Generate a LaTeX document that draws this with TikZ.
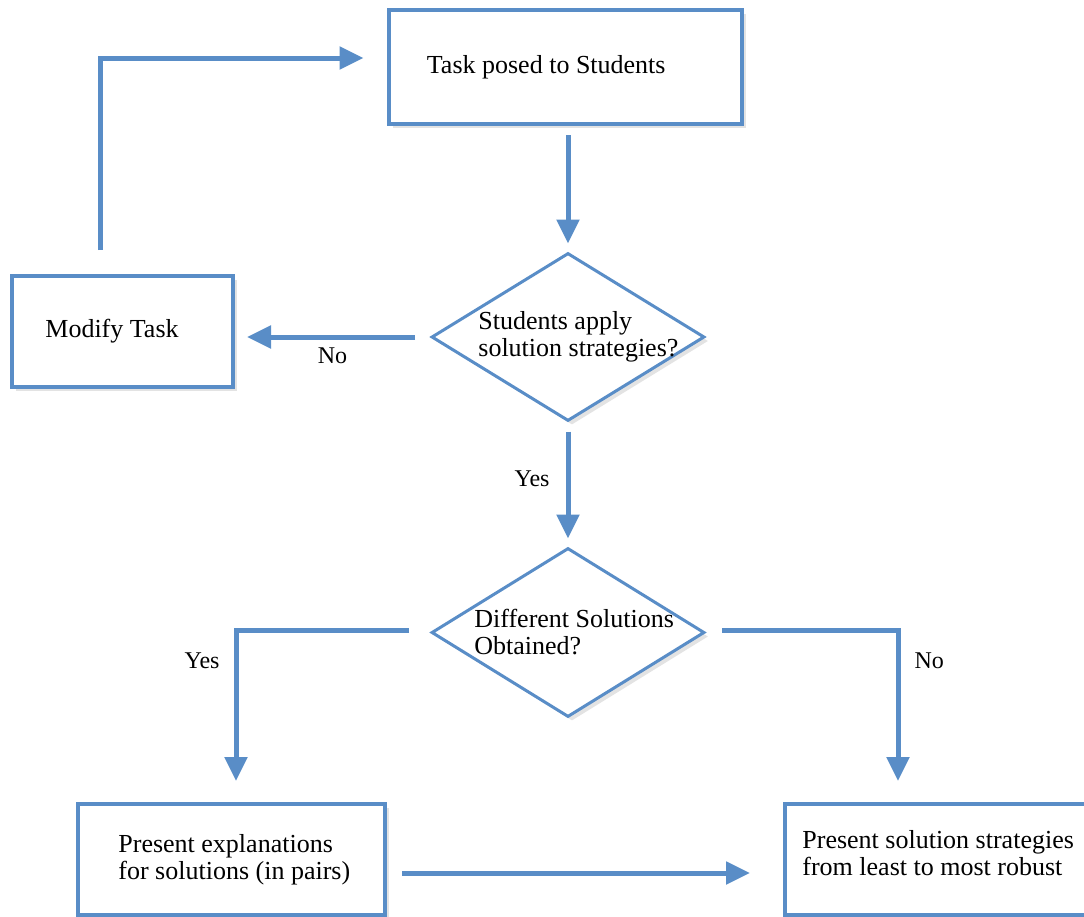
\documentclass[tikz,border=0pt]{standalone}
\usepackage{fontspec}
\setmainfont{Liberation Serif}
\usetikzlibrary{positioning,shapes.geometric,arrows.meta,shadows}
\definecolor{flowblue}{RGB}{89,141,199}

\begin{document}
\begin{tikzpicture}[x=0.5pt, y=-0.5pt,
    box/.style={draw=flowblue, line width=2pt, fill=white, inner sep=0pt,
                drop shadow={opacity=0.22, shadow xshift=2pt, shadow yshift=-2pt}},
    decision/.style={box, diamond, line width=1.5pt},
    txt/.style={inner sep=0pt, align=left, font=\fontsize{13}{13.5}\selectfont},
    lbl/.style={inner sep=0pt, font=\fontsize{12}{12}\selectfont},
    arr/.style={draw=flowblue, line width=2.5pt, -{Triangle[length=12pt, width=11pt]}}]
  \useasboundingbox (0,0) rectangle (1084,917);
  \clip (0,0) rectangle (1084,917);
  \node[box, minimum width=176.5pt, minimum height=57pt] (task) at (565,67) {};
  \node[box, minimum width=110.5pt, minimum height=55.5pt] (modify) at (122.5,331.5) {};
  \node[decision, minimum width=136.5pt, minimum height=84pt] (apply) at (568,337) {};
  \node[decision, minimum width=136.5pt, minimum height=84.5pt] (differ) at (568,632.5) {};
  \node[box, minimum width=153.5pt, minimum height=55.5pt] (explain) at (231.5,859.5) {};
  \node[box, minimum width=160pt, minimum height=55.5pt] (robust) at (945,859.5) {};
  \node[txt, right=20pt of task.west] (tasktext) {Task posed to Students};
  \node[txt, right=17.5pt of modify.west] (modifytext) {Modify Task};
  \node[txt, right=24pt of apply.west] (applytext) {Students apply\\solution strategies?};
  \node[txt, right=22pt of differ.west] (differtext) {Different Solutions\\Obtained?};
  \node[txt, right=21pt of explain.west] (explaintext) {Present explanations\\for solutions (in pairs)};
  \node[txt, right=9.5pt of robust.west, yshift=3pt] (robusttext) {Present solution strategies\\from least to most robust};
  \coordinate (bottomstart) at ([yshift=-6.75pt]explain.east);
  \draw[arr, shorten <=4.5pt, shorten >=4pt] (apply.north |- task.south) -- (apply.north);
  \draw[arr, shorten <=7.5pt, shorten >=6pt] (apply.west) -- (modify.east |- apply.west)
        node[lbl, midway, below=4pt] (noA) {No};
  \draw[arr, shorten <=12pt, shorten >=11.5pt] ([xshift=-11.25pt]modify.north) |- ([yshift=4.5pt]task.west);
  \draw[arr, shorten <=4.5pt, shorten >=4pt] (apply.south) -- (differ.north)
        node[lbl, pos=0.45, left=8pt] (yesA) {Yes};
  \draw[arr, shorten <=10.5pt, shorten >=10.5pt] ([yshift=1.25pt]differ.west) -| ([xshift=2.25pt]explain.north)
        node[lbl, pos=0.59, left=7pt] (yesB) {Yes};
  \draw[arr, shorten <=8pt, shorten >=10.5pt] ([yshift=1.25pt]differ.east) -| ([xshift=-23.5pt]robust.north)
        node[lbl, pos=0.59, right=7pt] (noB) {No};
  \draw[arr, shorten <=7.5pt, shorten >=16.5pt] (bottomstart) -- (bottomstart -| robust.west);
\end{tikzpicture}
\end{document}
